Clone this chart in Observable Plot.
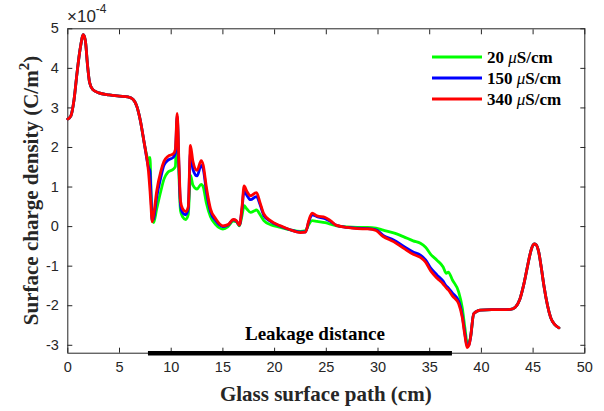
<!DOCTYPE html>
<html><head><meta charset="utf-8">
<script src="https://cdn.jsdelivr.net/npm/d3@7"></script>
<script src="https://cdn.jsdelivr.net/npm/@observablehq/plot@0.6"></script>
<style>body{margin:0;background:#fff} svg{display:block}</style>
</head><body><div id="chart"></div>
<script>
// Glass surface path (cm)
const xPath = [0,0.3,0.6,0.9,1.2,1.5,1.7,1.9,2.1,2.4,3.0,4.0,5.0,5.8,6.3,6.7,7.0,7.4,7.8,7.95,8.05,8.15,8.3,8.6,9.0,9.3,9.7,10.2,10.4,10.58,10.75,10.9,11.1,11.4,11.65,11.86,12.1,12.5,12.9,13.1,13.4,13.8,14.3,15.0,15.5,16.0,16.3,16.6,16.85,17.05,17.3,17.67,18.25,18.6,18.96,19.6,20.57,21.5,22.5,23.0,23.3,23.63,24.1,24.9,25.4,26.0,27.0,28.0,29.0,29.8,30.5,31.5,32.5,33.4,34.1,34.6,35.1,35.7,36.3,36.6,36.8,37.2,37.8,38.15,38.4,38.62,38.8,38.95,39.26,39.9,41.0,42.0,42.8,43.3,43.7,44.1,44.5,44.8,45.1,45.3,45.55,45.8,46.05,46.4,46.7,47.1,47.5];
// Surface charge density (x10^-4 C/m^2)
const green20 = [2.72,2.8,3.2,3.9,4.5,4.85,4.7,4.1,3.65,3.47,3.38,3.33,3.3,3.28,3.22,3.02,2.7,2.1,1.7,1.75,0.9,0.3,0.1,0.45,0.9,1.2,1.38,1.45,1.52,2.72,1.3,0.4,0.25,0.18,0.3,1.3,1.05,0.95,1.07,1.0,0.6,0.25,0.05,-0.06,0.0,0.14,0.12,0.02,0.28,0.53,0.45,0.36,0.42,0.3,0.15,0.05,-0.02,-0.08,-0.12,-0.1,0.05,0.15,0.13,0.1,0.06,0.02,-0.01,-0.02,-0.02,-0.04,-0.09,-0.16,-0.26,-0.36,-0.42,-0.52,-0.7,-0.85,-1.02,-1.18,-1.15,-1.35,-1.65,-2.05,-2.55,-2.92,-2.92,-2.8,-2.2,-2.11,-2.1,-2.1,-2.09,-2.03,-1.85,-1.46,-0.95,-0.6,-0.44,-0.46,-0.65,-1.05,-1.5,-2.0,-2.3,-2.48,-2.56];
const blue150 = [2.72,2.8,3.2,3.9,4.5,4.85,4.7,4.1,3.65,3.47,3.38,3.33,3.3,3.28,3.22,3.02,2.7,2.1,1.5,1.4,0.8,0.15,0.2,0.75,1.25,1.55,1.68,1.75,1.85,2.8,1.5,0.55,0.35,0.3,0.45,1.9,1.45,1.28,1.55,1.45,0.9,0.38,0.15,0.0,0.04,0.17,0.14,0.04,0.45,0.92,0.8,0.68,0.76,0.55,0.28,0.13,0.01,-0.08,-0.14,-0.13,0.12,0.3,0.25,0.2,0.13,0.03,-0.02,-0.04,-0.05,-0.08,-0.22,-0.34,-0.5,-0.64,-0.72,-0.84,-1.05,-1.22,-1.38,-1.5,-1.55,-1.68,-1.88,-2.25,-2.7,-3.02,-2.98,-2.8,-2.2,-2.11,-2.1,-2.1,-2.09,-2.03,-1.85,-1.46,-0.95,-0.6,-0.44,-0.46,-0.65,-1.05,-1.5,-2.0,-2.3,-2.48,-2.56];
const red340 = [2.72,2.8,3.2,3.9,4.5,4.85,4.7,4.1,3.65,3.47,3.38,3.33,3.3,3.28,3.22,3.02,2.7,2.1,1.4,0.9,0.5,0.12,0.3,0.9,1.4,1.65,1.78,1.84,1.95,2.86,1.6,0.65,0.45,0.38,0.5,2.05,1.65,1.42,1.67,1.55,1.0,0.45,0.2,0.02,0.05,0.18,0.15,0.04,0.5,1.03,0.9,0.78,0.86,0.6,0.32,0.15,0.02,-0.08,-0.15,-0.14,0.15,0.34,0.27,0.23,0.15,0.03,-0.02,-0.05,-0.06,-0.1,-0.25,-0.38,-0.55,-0.7,-0.78,-0.9,-1.12,-1.3,-1.45,-1.55,-1.6,-1.75,-1.95,-2.3,-2.75,-3.06,-3.0,-2.8,-2.2,-2.11,-2.1,-2.1,-2.09,-2.03,-1.85,-1.46,-0.95,-0.6,-0.44,-0.46,-0.65,-1.05,-1.5,-2.0,-2.3,-2.48,-2.56];

const seriesNames = ["20 μS/cm", "150 μS/cm", "340 μS/cm"];
const seriesValues = [green20, blue150, red340];
const seriesColors = ["#00ff00", "#0000ff", "#ff0000"];
const xTicks = [0,5,10,15,20,25,30,35,40,45,50];
const yTicks = [-3,-2,-1,0,1,2,3,4,5];
const leakageRange = [7.8, 37.2];
const leakageLabel = ["Leakage distance"];
const leakageLabelPos = [23.9, -2.7];

const rows = [];
seriesNames.forEach((s, k) => xPath.forEach((x, i) => rows.push({x, v: seriesValues[k][i], s})));

const W = 604, H = 411;
const mL = 67.3, mR = 19.7, mT = 28.3, mB = 58.3;
const serif = "'Liberation Serif','Times New Roman',serif";

const plot = Plot.plot({
  width: W, height: H,
  marginLeft: mL, marginRight: mR, marginTop: mT, marginBottom: mB,
  style: {fontFamily: "'Liberation Sans',Arial,sans-serif", fontSize: "14.5px", color: "#262626", background: "#fff", overflow: "visible"},
  x: {domain: [0, 50]},
  y: {domain: [-3.2, 5]},
  color: {domain: seriesNames, range: seriesColors},
  marks: [
    Plot.frame({stroke: "#262626", strokeWidth: 1}),
    Plot.axisX({ticks: xTicks, tickSize: -5, tickPadding: 14, label: null, tickFormat: d => d, stroke: "#262626", strokeOpacity: 1}),
    Plot.axisX({anchor: "top", ticks: xTicks, tickSize: -5, label: null, tickFormat: () => "", stroke: "#262626", strokeOpacity: 1}),
    Plot.axisY({ticks: yTicks, tickSize: -5, tickPadding: 14, label: null, tickFormat: d => d, stroke: "#262626", strokeOpacity: 1}),
    Plot.axisY({anchor: "right", ticks: yTicks, tickSize: -5, label: null, tickFormat: () => "", stroke: "#262626", strokeOpacity: 1}),
    Plot.line(rows, {x: "x", y: "v", z: "s", stroke: "s", strokeWidth: 2.8, curve: "monotone-x"}),
    Plot.ruleY([-3.2], {x1: leakageRange[0], x2: leakageRange[1], stroke: "#000", strokeWidth: 4.5}),
    Plot.text(leakageLabel, {x: leakageLabelPos[0], y: leakageLabelPos[1], text: d => d, fontFamily: serif, fontWeight: "bold", fontSize: 19, fill: "#000"})
  ]
});
document.getElementById("chart").append(plot);

const svg = d3.select(plot);
// x axis title
svg.append("text").attr("x", (mL + W - mR) / 2).attr("y", 401)
  .attr("text-anchor", "middle").attr("font-family", serif).attr("font-weight", "bold")
  .attr("font-size", 21).attr("fill", "#262626").text("Glass surface path (cm)");
// y axis title
const yt = svg.append("text").attr("transform", `translate(38,${(mT + H - mB) / 2}) rotate(-90)`)
  .attr("text-anchor", "middle").attr("font-family", serif).attr("font-weight", "bold")
  .attr("font-size", 21).attr("fill", "#262626");
yt.append("tspan").text("Surface charge density (C/m");
yt.append("tspan").attr("font-size", 15).attr("dy", -9).text("2");
yt.append("tspan").attr("dy", 9).text(")");
// exponent
const ex = svg.append("text").attr("x", 67).attr("y", 22).attr("text-anchor", "start")
  .attr("font-family", "'Liberation Sans',Arial,sans-serif")
  .attr("font-size", 17).attr("fill", "#262626");
ex.append("tspan").text("×10");
ex.append("tspan").attr("font-size", 12).attr("dy", -9).text("-4");
// legend
const lg = svg.append("g");
seriesNames.forEach((s, k) => {
  const y = 57 + k * 21;
  lg.append("line").attr("x1", 432).attr("x2", 482).attr("y1", y).attr("y2", y)
    .attr("stroke", seriesColors[k]).attr("stroke-width", 2.8);
  const [num, unit] = s.split(" ");
  const t = lg.append("text").attr("x", 487).attr("y", y + 6).attr("text-anchor", "start")
    .attr("font-family", serif).attr("font-weight", "bold").attr("font-size", 17).attr("fill", "#000");
  t.append("tspan").text(num + " ");
  t.append("tspan").attr("font-style", "italic").attr("font-weight", "normal").text("μ");
  t.append("tspan").text(unit.slice(1));
});
</script>
</body></html>
